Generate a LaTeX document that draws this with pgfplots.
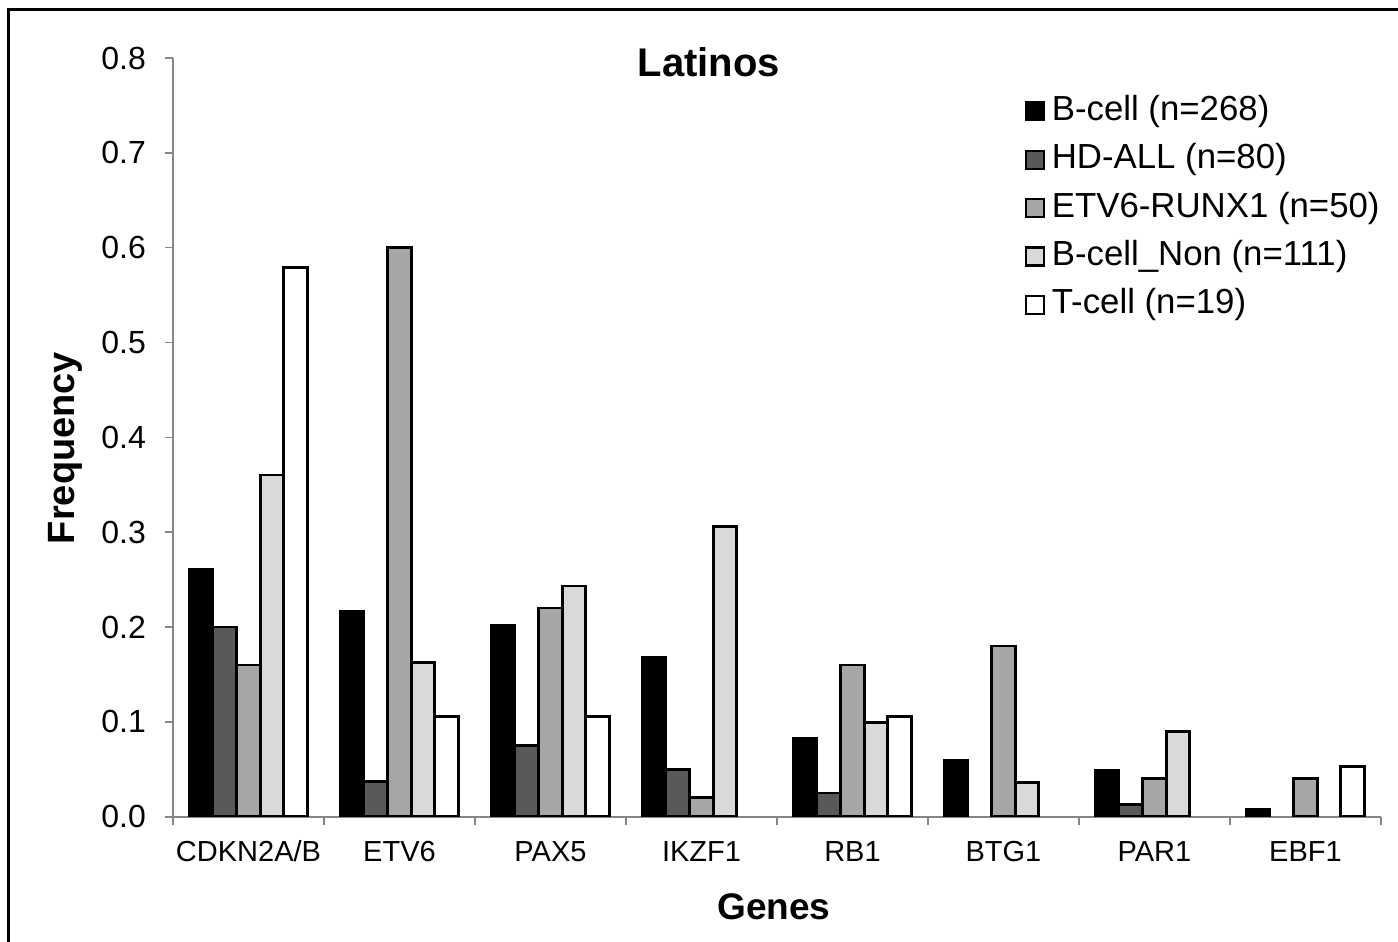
\documentclass[border=0pt]{standalone}
\usepackage{fontspec}
\setmainfont{Liberation Sans}
\usepackage{pgfplots}
\pgfplotsset{compat=1.18}
\definecolor{hdall}{HTML}{595959}
\definecolor{etvrunx}{HTML}{A6A6A6}
\definecolor{bnon}{HTML}{D9D9D9}
\definecolor{axisgray}{HTML}{868686}

\begin{document}
\begin{tikzpicture}
\path[use as bounding box] (-86.5pt,-62.65pt) rectangle (612.5pt,408.35pt);
\draw[line width=1.5pt] (-82pt,-80pt) -- (-82pt,403.35pt) -- (630pt,403.35pt);
\begin{axis}[
    scale only axis,
    width=604pt, height=379.35pt,
    ybar=0pt, bar width=11.8pt,
    xmin=-0.5, xmax=7.5, ymin=0, ymax=0.8,
    axis x line*=bottom, axis y line*=left,
    axis line style={axisgray, line width=0.8pt},
    tick align=outside,
    tick style={axisgray, line width=0.8pt},
    major tick length=4pt,
    xtick={-0.5,0.5,...,7.5}, xticklabels={},
    extra x ticks={0,1,2,3,4,5,6,7},
    extra x tick labels={CDKN2A/B,ETV6,PAX5,IKZF1,RB1,BTG1,PAR1,EBF1},
    extra x tick style={major tick length=0pt,
        xticklabel style={font=\fontsize{14.5}{17}\selectfont, text height=11pt, text depth=3pt, yshift=-8pt}},
    ytick={0,0.1,0.2,0.3,0.4,0.5,0.6,0.7,0.8},
    yticklabel style={/pgf/number format/.cd, fixed, fixed zerofill, precision=1, /tikz/.cd,
        font=\fontsize{16}{19}\selectfont, xshift=-6pt},
    /pgf/number format/assume math mode=true,
    tick label style={black},
    title={Latinos},
    title style={font=\bfseries\fontsize{20}{24}\selectfont, at={(axis description cs:0.4437,0.979)}, anchor=center},
    xlabel={Genes},
    xlabel style={font=\bfseries\fontsize{18.5}{22}\selectfont, at={(axis description cs:0.4975,-0.119)}, anchor=center},
    ylabel={Frequency},
    ylabel style={font=\bfseries\fontsize{19}{23}\selectfont, at={(axis description cs:-0.0894,0.486)}, anchor=center, rotate=0},
    every axis plot/.append style={draw=black, line width=1.4pt},
    legend image code/.code={\draw[#1, line width=1.1pt] (0pt,-4.5pt) rectangle (9pt,4.5pt);},
    legend cell align=left,
    legend style={draw=none, fill=none, at={(axis description cs:0.6997,0.9605)}, anchor=north west,
        font=\fontsize{17.4}{20}\selectfont, row sep=5.2pt,
        /tikz/every odd column/.append style={column sep=2.5pt},
        nodes={inner sep=1pt, text height=13pt, text depth=4pt}},
]
\addplot[fill=black] coordinates {(0,0.2612) (1,0.2164) (2,0.2015) (3,0.1679) (4,0.0821) (5,0.0597) (6,0.0485) (7,0.0075)};
\addplot[fill=hdall] coordinates {(0,0.2) (1,0.0375) (2,0.075) (3,0.05) (4,0.025) (6,0.0125)};
\addplot[fill=etvrunx] coordinates {(0,0.16) (1,0.6) (2,0.22) (3,0.02) (4,0.16) (5,0.18) (6,0.04) (7,0.04)};
\addplot[fill=bnon] coordinates {(0,0.3604) (1,0.1622) (2,0.2432) (3,0.3063) (4,0.0991) (5,0.036) (6,0.0901)};
\addplot[fill=white] coordinates {(0,0.5789) (1,0.1053) (2,0.1053) (4,0.1053) (7,0.0526)};
\legend{B-cell (n=268), HD-ALL (n=80), ETV6-RUNX1 (n=50), B-cell\_Non (n=111), T-cell (n=19)}
\end{axis}
\end{tikzpicture}
\end{document}
